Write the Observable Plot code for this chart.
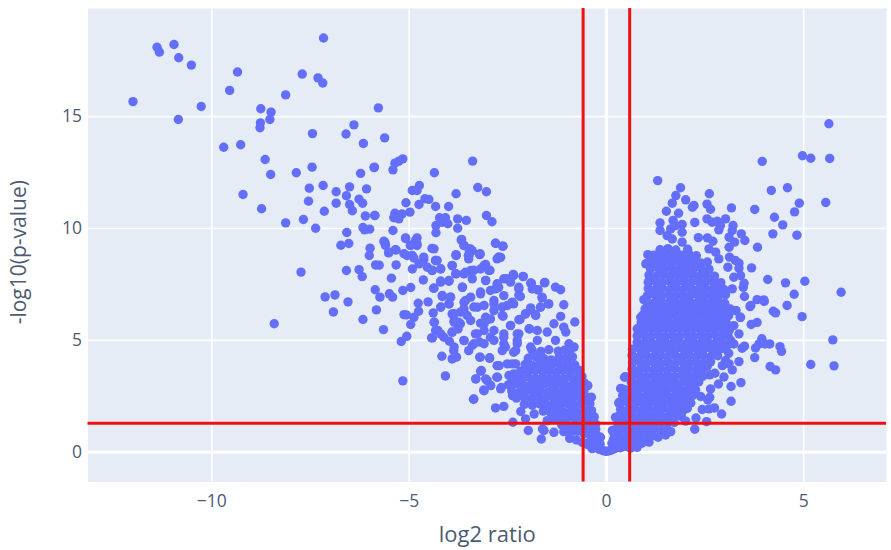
<!DOCTYPE html>
<html><head><meta charset="utf-8">
<script src="https://cdn.jsdelivr.net/npm/d3@7"></script>
<script src="https://cdn.jsdelivr.net/npm/@observablehq/plot@0.6"></script>
<style>html,body{margin:0;padding:0;background:#fff}svg{display:block}</style>
</head><body><div id="chart"></div>
<script>
const xTicks=[-10,-5,0,5];
const yTicks=[0,5,10,15];
const foldCut=[-0.59,0.59];
const pCut=[1.3];
const xTitle=["log2 ratio"];
const yTitle=["-log10(p-value)"];
const farLeft=[[-12,15.67],[-11.39,18.1],[-11.33,17.88],[-10.96,18.22],[-10.84,17.63],[-10.52,17.3],[-10.85,14.87],[-10.27,15.45],[-9.35,16.99],[-9.55,16.17],[-9.7,13.63],[-9.27,13.74],[-8.76,15.35],[-8.5,15.2],[-8.53,14.87],[-8.77,14.72],[-8.78,14.5],[-8.13,15.97],[-7.71,16.9],[-7.31,16.73],[-7.19,16.5],[-7.17,18.51],[-5.78,15.39],[-6.4,14.63],[-6.6,14.22],[-6.16,13.8],[-7.45,14.24],[-8.65,13.08],[-8.51,12.41],[-7.86,12.49],[-7.46,12.74],[-5.89,12.72],[-6.23,12.46],[-7.53,11.8],[-7.18,11.92],[-6.51,11.86],[-6.08,11.77],[-6.85,11.64],[-6.59,11.46],[-6.27,11.31],[-6.18,11.13],[-7.55,11.22],[-6.85,11.13],[-6.51,11.07],[-6.44,10.79],[-7.15,10.77],[-9.21,11.52],[-8.74,10.88],[-6.11,10.56],[-5.87,10.58],[-8.13,10.25],[-7.68,10.4],[-7.37,10.01],[-6.17,10.04],[-6,9.97],[-6.13,9.94],[-6.58,9.82]];
const midLeft=[[-6.73,9.25],[-6.53,9.33],[-5.99,9.12],[-6.01,8.79],[-7.74,8.05],[-6.59,8.12],[-6.27,8.16],[-6.19,7.85],[-5.85,8.37],[-5.76,8.36],[-5.62,9.39],[-5.6,9.28],[-5.51,8.94],[-5.33,9.04],[-5.09,9.55],[-5.33,8.37],[-5.45,7.78],[-4.64,7.7],[-5.16,7.23],[-4.96,7.36],[-5.86,7.26],[-5.74,6.93],[-5.5,7.08],[-5.42,6.93],[-7.13,6.94],[-6.88,7.03],[-6.55,6.72],[-6.92,6.27],[-5.83,6.36],[-6.17,5.93],[-8.42,5.74],[-5.65,5.48],[-4.77,6.66],[-4.52,6.72],[-4.76,6.3],[-5.13,6.15],[-5.07,6.14],[-4.88,6.03],[-4.96,5.71],[-5.06,5.18],[-5.2,4.95],[-5.16,3.19],[-4.43,5.11],[-4.17,4.29],[-4.08,3.41],[-3.37,2.37],[-4.36,5.81],[-4.39,6.23],[-4.33,5.44],[-4.2,5.29],[-4.12,5.14],[-3.98,4.96],[-3.87,4.54],[-3.91,4.17],[-3.8,4.25],[-3.91,5.36],[-3.76,5.51],[-3.86,5.88],[-3.7,5.74],[-3.61,4.99],[-3.49,4.54],[-3.4,4.77],[-3.21,4.92],[-3.21,4.25],[-2.96,4.2],[-3.17,3.65],[-3.31,3.28],[-3.02,3.2],[-3.11,2.78],[-2.78,3.35],[-2.77,3.87],[-2.66,2.9],[-2.35,3.5],[-2.6,4.84],[-2.35,4.47],[-2.39,3.95],[-2.6,5.29],[-2.94,5.14],[-3.27,5.29],[-3.1,5.74],[-2.94,5.96],[-2.43,5.66],[-2.22,5.29],[-2.26,4.99],[-2.62,6.08],[-2.19,5.93],[-1.95,5.51],[-2.05,6.18],[-1.8,6.15],[-1.92,6.45],[-1.67,6.48],[-1.47,6.63],[-1.63,6.9],[-1.57,7.57],[-1.73,7.26],[-1.9,7.55],[-2.11,7.85],[-2.35,7.9],[-2.53,7.75],[-2.22,7.37],[-2.18,6.96],[-2.35,6.63],[-2.73,7.37],[-2.94,7.23],[-3.19,7.08],[-3.44,6.93],[-3.65,7.37],[-3.95,6.93],[-4.16,6.96],[-3.99,6.63],[-4.2,6.48],[-3.61,6.7],[-3.7,6.26],[-3.91,6.18],[-3.53,6.11],[-3.27,6.48],[-2.85,6.63],[-2.6,7],[-3.06,6.03],[-3.99,7.64],[-4.2,7.6],[-4.38,7.33],[-3.81,7.97],[-3.61,7.97],[-3.4,7.75],[-3.06,7.67],[-3.44,8.12],[-3.19,8.19],[-2.98,8.12],[-3.06,8.39],[-3.91,8.34],[-4.2,8.19],[-4.42,8.12],[-4.33,8.57],[-4.63,8.6],[-4.54,8.27],[-4.75,8.42],[-4.92,8.19],[-4.88,8.68],[-5.05,8.79],[-4.84,9.46],[-4.96,9.24],[-4.8,9.24],[-4.37,9.09],[-3.81,8.79],[-3.68,9.49],[-3.61,9.24],[-3.49,9.09],[-3.4,9.01],[-3.49,8.64],[-3.21,8.83],[-2.81,9.34],[-2.62,9.21],[-2.77,8.64],[-2.68,8.71]];
const upperBand=[[-5.62,14.05],[-5.16,13.11],[-5.26,13.01],[-5.36,12.92],[-5.88,12.74],[-5.41,12.62],[-4.36,12.49],[-3.39,13.01],[-4.74,11.92],[-4.92,11.7],[-4.8,11.7],[-3.26,11.83],[-3.04,11.64],[-3.81,11.55],[-4.6,11.33],[-4.5,11.3],[-5.08,11.15],[-4.75,11.07],[-4.33,10.98],[-4,10.98],[-4.98,10.73],[-5.87,10.58],[-5.36,10.68],[-5.18,10.65],[-5.39,10.48],[-5.26,10.43],[-4.23,10.48],[-4.08,10.48],[-3.77,10.43],[-3.55,10.36],[-3.04,10.58],[-2.9,10.3],[-4.16,10.28],[-4.02,10.21],[-4.32,10.13],[-3.77,10.01],[-5.41,9.91],[-4.32,9.81],[-5.09,9.58],[-4.8,9.58],[-3.67,9.51],[-5.64,9.43],[-5.6,9.24],[-4.8,9.31],[-4.97,9.24],[-2.81,9.34],[-2.63,9.21],[-3.61,9.24],[-3.45,9.09],[-4.42,9.11],[-5.35,9.05],[-5.52,8.91],[-5.13,8.87],[-4.92,8.79],[-4.63,8.72],[-3.81,8.81],[-3.5,8.79],[-3.21,8.84],[-2.73,8.72],[-4.29,8.57]];
const lowerBand=[[-3.81,8.83],[-3.2,8.87],[-3.48,8.8],[-2.72,8.72],[-3.91,8.35],[-3.82,7.98],[-4.33,8.57],[-4.2,8.2],[-4.41,8.13],[-3.57,8.05],[-3.36,8.13],[-3.1,8.35],[-2.95,8.13],[-3.06,7.68],[-2.36,7.95],[-2.11,7.86],[-2.6,7.75],[-2.77,7.53],[-2.43,7.6],[-1.92,7.56],[-1.56,7.59],[-1.29,7.38],[-1.16,7.26],[-1.75,7.26],[-1.88,7.3],[-2.22,7.3],[-2.22,7.01],[-1.63,6.93],[-1.08,6.59],[-1.46,6.63],[-1.67,6.49],[-1.92,6.37],[-2.05,6.19],[-1.79,6.11],[-2.22,5.92],[-2.39,6.71],[-2.51,6.56],[-2.64,6.49],[-2.64,6.11],[-2.85,6.33],[-2.85,6.78],[-3.19,7.16],[-2.81,7.3],[-3.1,6.56],[-3.36,6.49],[-3.61,6.41],[-3.57,6.78],[-3.65,7.38],[-3.99,7.68],[-4.2,7.65],[-4.37,7.33],[-4.16,7.01],[-3.95,6.93],[-3.99,6.63],[-4.2,6.49],[-3.86,6.19],[-3.74,5.81],[-3.86,5.81],[-3.44,5.89],[-3.19,5.77],[-3.02,5.92],[-4.37,5.81],[-4.27,5.44],[-3.91,5.37],[-3.61,5],[-3.32,5.29],[-3.1,5.44],[-2.85,5.44],[-2.6,5.14],[-2.43,5.67],[-2.26,5.29],[-1.96,5.52],[-1.75,5.44],[-1.5,5.37],[-1.33,5.74],[-1.08,5.59],[-0.8,5.82],[-1.16,6.07],[-1.03,5.37],[-1.29,5],[-0.95,4.85],[-0.82,4.7],[-1.75,5],[-1.92,4.7],[-2.26,4.85],[-2.56,4.7],[-2.85,5],[-3.1,4.85],[-3.36,4.85],[-3.86,4.7],[-4.41,5.11]];
const lowLeft=[[-3.2,4.25],[-2.96,4.22],[-2.64,4.54],[-2.3,4.54],[-2.72,3.87],[-2.51,3.95],[-2.3,3.95],[-3.19,3.62],[-3.31,3.28],[-3.06,3.28],[-2.76,3.35],[-2.93,2.98],[-3.1,2.75],[-2.68,2.83],[-2.47,3.43],[-2.38,2.53],[-3.36,2.38],[-2.81,1.98],[-2.6,2.05],[-2.17,1.82],[-2.37,1.34],[-2.05,1.49],[-1.98,0.97],[-1.65,0.59],[-1.62,1.04],[-1.33,0.89],[-1.83,1.71],[-1.5,1.41],[-1.24,1.56],[-1.58,0.97]];
const denseLeft=[[-0.93,0.62],[-0.76,0.55],[-0.61,0.44],[-0.47,0.42],[-0.36,0.34],
[-1.08,0.92],[-0.9,0.88],[-0.74,0.94],[-0.57,0.83],[-0.42,0.8],[-0.31,0.72],
[-1.13,1.22],[-0.96,1.17],[-0.8,1.25],[-0.62,1.2],[-0.46,1.14],[-0.27,1.26],
[-1.33,1.53],[-1.17,1.48],[-1,1.52],[-0.83,1.56],[-0.66,1.47],[-0.49,1.53],[-0.31,1.58],
[-1.6,1.84],[-1.42,1.79],[-1.25,1.86],[-1.08,1.8],[-0.9,1.83],[-0.73,1.78],[-0.55,1.86],[-0.38,1.85],
[-2.08,2.14],[-1.88,2.1],[-1.7,2.17],[-1.52,2.09],[-1.35,2.16],[-1.17,2.11],[-1,2.18],[-0.82,2.12],[-0.64,2.15],[-0.43,2.2],
[-2.28,2.42],[-2.09,2.47],[-1.9,2.39],[-1.72,2.45],[-1.55,2.41],[-1.37,2.48],[-1.2,2.4],[-1.03,2.46],[-0.85,2.42],[-0.67,2.47],[-0.48,2.44],
[-2.4,2.74],[-2.2,2.68],[-2.02,2.75],[-1.84,2.7],[-1.67,2.76],[-1.48,2.69],[-1.3,2.73],[-1.12,2.68],[-0.95,2.76],[-0.76,2.7],[-0.57,2.72],
[-2.48,3.02],[-2.27,3.06],[-2.1,2.99],[-1.9,3.04],[-1.72,3],[-1.55,3.07],[-1.37,3],[-1.2,3.05],[-1.02,2.98],[-0.84,3.04],[-0.66,3.01],[-0.56,3.1],
[-2.38,3.3],[-2.17,3.28],[-2,3.36],[-1.8,3.3],[-1.62,3.35],[-1.44,3.27],[-1.27,3.34],[-1.09,3.29],[-0.92,3.36],[-0.74,3.3],[-0.62,3.38],
[-2.18,3.62],[-1.98,3.58],[-1.8,3.66],[-1.61,3.6],[-1.45,3.65],[-1.27,3.58],[-1.1,3.66],[-0.92,3.6],[-0.75,3.64],
[-2.06,3.92],[-1.88,3.88],[-1.7,3.95],[-1.52,3.9],[-1.34,3.96],[-1.16,3.88],[-0.98,3.94],[-0.8,3.9],
[-1.98,4.2],[-1.78,4.26],[-1.58,4.18],[-1.2,4.24],[-1.02,4.2],[-0.86,4.26],[-1.4,4.12],
[-1.88,4.55],[-1.66,4.5],[-1.46,4.58],[-1.22,4.52],[-1.06,4.56],[-0.93,4.44]];
const vBottom=[[0,0.04],[-0.06,0.06],[0.06,0.06],[-0.12,0.1],[0.12,0.09],[-0.18,0.13],[0.18,0.14],[-0.24,0.2],[0.24,0.19],[-0.3,0.26],[0.3,0.24],[-0.36,0.16],[0.36,0.2],[-0.42,0.3],[0.42,0.28],[-0.5,0.36],[0.5,0.26],[-0.16,0.36],[0.14,0.4],[-0.2,0.52],[0.18,0.58],[-0.24,0.74],[0.2,0.8],[-0.3,0.55],[0.28,0.5],[-0.36,0.62],[0.36,0.66],[-0.27,1.02],[0.15,0.97],[-0.4,1.2],[0.28,1.1],[-0.34,1.4],[0.23,1.56],[-0.38,1.86],[0.32,1.5],[-0.42,2.17],[0.32,2.18],[-0.38,2.46],[0.36,2.85],[-0.47,2.98],[0.49,3.38],[-0.68,3.65],[0.46,3.35],[0.4,2.83],[0.32,2.23],[0.27,1.56],[0.19,0.97],[-0.15,0.67],[0.61,0.18],[0.78,0.22],[1.08,0.45]];
const rightOut=[[5.74,5.02],[5.18,3.92],[5.77,3.86],[4.96,6.06],[4.58,6.56],[4.23,6.3],[4.29,6.23],[3.82,5.8],[3.67,5.71],[3.94,5.07],[4.14,4.84],[4.02,4.84],[3.87,4.84],[3.78,4.66],[4.4,4.72],[4.44,4.51],[3.76,4.23],[4.15,3.83],[4.29,3.68],[3.5,4.74],[3.44,4.65],[3.36,4.05],[3.19,3.68],[3.02,4.1],[3.11,3.95],[2.94,3.87],[3.41,3.11],[3.16,2.94],[2.64,2.83],[2.75,3.53],[2.62,3.46],[3.16,2.28],[2.39,2.49],[2.57,2.34],[2.43,1.91],[2.6,1.94],[2.74,1.98],[2.92,1.71],[2.54,1.37],[2.27,1.53],[2.01,1.39],[2.24,1.03],[1.63,0.92],[1.5,0.77],[1.31,0.67],[3.39,6.03],[3.23,5.66],[3.36,5.29],[3.23,4.84],[3.06,4.77],[3.28,6.33],[3.64,6.51],[4,6.74]];
const rightUpper=[[5.64,14.68],[4.97,13.25],[5.18,13.14],[5.66,13.13],[3.95,13],[1.3,12.14],[4.18,11.7],[4.59,11.82],[1.88,11.82],[2.61,11.55],[1.76,11.47],[2.01,11.28],[1.67,11.13],[4.89,11.13],[5.56,11.16],[2.18,10.95],[2.22,11.03],[2.55,11.09],[2.64,10.86],[3.17,10.92],[3.76,10.85],[4.77,10.74],[1.52,10.77],[1.83,10.68],[4.26,10.5],[4.47,10.16],[4.22,9.76],[4.83,9.7],[1.36,10.25],[1.69,10.36],[2.24,10.27],[1.92,10.18],[2.55,10.43],[2.68,10.28],[2.81,10.32],[3.02,10.43],[2.89,10.13],[2.85,9.94],[3.21,10.13],[3.19,9.91],[1.36,9.91],[1.63,9.98],[1.75,10.13],[1.92,9.83],[1.54,9.68],[1.67,9.53],[1.92,9.39],[2.33,9.59],[2.56,9.58],[2.7,9.43],[3.11,9.61],[3.25,9.39],[3.11,9.16],[3.42,9.76],[3.51,9.46],[3.83,9.16],[2.6,9.09],[2.77,8.94],[2.85,8.64],[3.12,8.72],[3.36,8.45],[3.27,8.57],[3.08,8.27],[3.36,8.22],[3.68,8.24],[3.23,7.82],[3.4,7.9],[3.49,7.55],[3.47,7.37],[4.09,7.72],[4.54,7.57],[5.03,7.64],[5.95,7.15],[4.76,7.06],[3.99,6.81],[3.82,6.82],[3.5,6.96],[3.66,6.56],[3.19,7.3],[3.28,6.33],[3.4,6.03],[0.95,6.82],[0.87,6.03],[1.05,8.83],[1,8.42],[1.1,7.75],[1.12,7.22]];
const denseRightLow=[[0.47,0.42],[0.62,0.38],[0.76,0.44],[0.9,0.4],
[0.52,0.72],[0.68,0.66],[0.84,0.74],[1,0.68],[1.17,0.74],
[0.36,1.02],[0.52,1.06],[0.7,0.98],[0.87,1.04],[1.04,1],[1.21,1.06],[1.38,0.98],[1.5,1.05],
[0.3,1.32],[0.5,1.28],[0.68,1.34],[0.86,1.27],[1.02,1.33],[1.2,1.28],[1.37,1.35],[1.55,1.28],[1.72,1.33],
[0.31,1.62],[0.48,1.58],[0.66,1.64],[0.84,1.57],[1.02,1.63],[1.19,1.58],[1.37,1.65],[1.54,1.57],[1.72,1.63],[1.9,1.6],
[0.36,1.92],[0.54,1.88],[0.72,1.94],[0.9,1.87],[1.07,1.93],[1.25,1.88],[1.42,1.95],[1.6,1.87],[1.77,1.93],[1.95,1.88],[2.05,1.96],
[0.36,2.2],[0.54,2.24],[0.72,2.17],[0.9,2.23],[1.08,2.18],[1.26,2.25],[1.44,2.17],[1.62,2.24],[1.8,2.18],[1.98,2.23],[2.14,2.2],
[0.41,2.52],[0.6,2.47],[0.78,2.53],[0.96,2.46],[1.14,2.52],[1.32,2.47],[1.5,2.54],[1.68,2.46],[1.86,2.52],[2.04,2.47],[2.18,2.53],
[0.46,2.8],[0.64,2.84],[0.82,2.78],[1,2.84],[1.18,2.77],[1.36,2.83],[1.54,2.78],[1.72,2.85],[1.9,2.77],[2.08,2.83],[2.26,2.79],
[0.63,3.12],[0.8,3.07],[0.98,3.13],[1.16,3.06],[1.34,3.12],[1.52,3.07],[1.7,3.14],[1.88,3.06],[2.06,3.12],[2.24,3.07],[2.34,3.14],
[0.66,3.4],[0.84,3.45],[1.02,3.38],[1.2,3.44],[1.38,3.37],[1.56,3.43],[1.74,3.38],[1.92,3.45],[2.1,3.37],[2.28,3.43],[2.44,3.39],
[0.65,3.72],[0.83,3.67],[1.01,3.73],[1.19,3.66],[1.37,3.72],[1.55,3.67],[1.73,3.74],[1.91,3.66],[2.09,3.72],[2.27,3.67],[2.45,3.73],
[0.66,4],[0.84,4.05],[1.02,3.98],[1.2,4.04],[1.38,3.97],[1.56,4.03],[1.74,3.98],[1.92,4.05],[2.1,3.97],[2.28,4.03],[2.46,3.98],[2.64,4.04],
[0.65,4.32],[0.83,4.27],[1.01,4.33],[1.19,4.26],[1.37,4.32],[1.55,4.27],[1.73,4.34],[1.91,4.26],[2.09,4.32],[2.27,4.27],[2.45,4.33],[2.63,4.26],[2.82,4.31],
[0.66,4.6],[0.84,4.65],[1.02,4.58],[1.2,4.64],[1.38,4.57],[1.56,4.63],[1.74,4.58],[1.92,4.65],[2.1,4.57],[2.28,4.63],[2.46,4.58],[2.64,4.65],[2.82,4.58],[2.94,4.63]];
const denseRightHigh=[[0.78,4.92],[0.95,4.87],[1.13,4.93],[1.31,4.86],[1.49,4.92],[1.67,4.87],[1.85,4.94],[2.03,4.86],[2.21,4.92],[2.39,4.87],[2.57,4.93],[2.75,4.86],[2.93,4.91],
[0.78,5.2],[0.95,5.25],[1.13,5.18],[1.31,5.24],[1.49,5.17],[1.67,5.23],[1.85,5.18],[2.03,5.25],[2.21,5.17],[2.39,5.23],[2.57,5.18],[2.75,5.25],[2.93,5.18],[3.08,5.23],
[0.78,5.52],[0.96,5.47],[1.14,5.53],[1.32,5.46],[1.5,5.52],[1.68,5.47],[1.86,5.54],[2.04,5.46],[2.22,5.52],[2.4,5.47],[2.58,5.53],[2.76,5.46],[2.94,5.52],[3.12,5.47],
[0.88,5.8],[1.06,5.85],[1.24,5.78],[1.42,5.84],[1.6,5.77],[1.78,5.83],[1.96,5.78],[2.14,5.85],[2.32,5.77],[2.5,5.83],[2.68,5.78],[2.86,5.85],[3.04,5.78],
[0.92,6.12],[1.1,6.07],[1.28,6.13],[1.46,6.06],[1.64,6.12],[1.82,6.07],[2,6.14],[2.18,6.06],[2.36,6.12],[2.54,6.07],[2.72,6.13],[2.9,6.06],[3.1,6.1],
[0.98,6.4],[1.16,6.45],[1.34,6.38],[1.52,6.44],[1.7,6.37],[1.88,6.43],[2.06,6.38],[2.24,6.45],[2.42,6.37],[2.6,6.43],[2.78,6.38],[2.96,6.45],[3.14,6.4],
[1.02,6.72],[1.2,6.67],[1.38,6.73],[1.56,6.66],[1.74,6.72],[1.92,6.67],[2.1,6.74],[2.28,6.66],[2.46,6.72],[2.64,6.67],[2.82,6.73],[3,6.66],
[1.04,7],[1.22,7.05],[1.4,6.98],[1.58,7.04],[1.76,6.97],[1.94,7.03],[2.12,6.98],[2.3,7.05],[2.48,6.97],[2.66,7.03],[2.84,6.98],[3.02,7.04],
[1.06,7.32],[1.24,7.27],[1.42,7.33],[1.6,7.26],[1.78,7.32],[1.96,7.27],[2.14,7.34],[2.32,7.26],[2.5,7.32],[2.68,7.27],[2.86,7.33],[2.98,7.27],
[1.06,7.6],[1.24,7.65],[1.42,7.58],[1.6,7.64],[1.78,7.57],[1.96,7.63],[2.14,7.58],[2.32,7.65],[2.5,7.57],[2.68,7.63],[2.9,7.58],
[1.08,7.92],[1.26,7.87],[1.44,7.93],[1.62,7.86],[1.8,7.92],[1.98,7.87],[2.16,7.94],[2.34,7.86],[2.52,7.92],[2.74,7.87],
[1.12,8.2],[1.3,8.25],[1.48,8.18],[1.66,8.24],[1.84,8.17],[2.02,8.23],[2.2,8.18],[2.38,8.25],[2.6,8.18],
[1.14,8.52],[1.32,8.47],[1.5,8.53],[1.68,8.46],[1.86,8.52],[2.04,8.47],[2.22,8.54],[2.4,8.46],[2.56,8.5],
[1.2,8.8],[1.38,8.84],[1.56,8.78],[1.74,8.85],[1.92,8.8],[2.1,8.85],[2.28,8.78],
[1.36,9.05],[1.56,9.1],[1.76,9.04],[2.06,9.07]];
const gapFillRight=[[0.75,1.48],[1.1,1.47],[1.46,1.46],[0.63,2.05],[0.99,2.06],[1.35,2.04],[1.71,2.05],[0.7,2.66],[1.05,2.65],[1.41,2.66],[1.77,2.65],[2.13,2.66],[0.9,3.26],[1.25,3.25],[1.61,3.26],[1.97,3.25],[2.33,3.26],[0.92,3.86],[1.28,3.85],[1.64,3.86],[2,3.85],[2.36,3.86],[2.56,3.85],[0.92,4.46],[1.28,4.45],[1.64,4.46],[2,4.45],[2.36,4.46],[2.72,4.45],[1.04,5.06],[1.4,5.05],[1.76,5.06],[2.12,5.05],[2.48,5.06],[2.84,5.05],[1.05,5.66],[1.41,5.65],[1.77,5.66],[2.13,5.65],[2.49,5.66],[2.85,5.65],[1.19,6.26],[1.55,6.25],[1.91,6.26],[2.27,6.25],[2.63,6.26],[2.99,6.25],[1.29,6.86],[1.65,6.85],[2.01,6.86],[2.37,6.85],[2.73,6.86],[1.33,7.46],[1.69,7.45],[2.05,7.46],[2.41,7.45],[2.77,7.46],[1.39,8.06],[1.75,8.05],[2.11,8.06],[2.47,8.05],[1.41,8.66],[1.77,8.65],[2.13,8.66],[2.62,2.45],[2.84,3.05],[2.98,3.36],[3.1,4.42],[3.15,5.0]];
const points=[...farLeft,...midLeft,...upperBand,...lowerBand,...lowLeft,...denseLeft,...vBottom,...rightOut,...rightUpper,...denseRightLow,...denseRightHigh,...gapFillRight];
const inkTick="#4d5b72", inkTitle="#4d5b72", font="'Open Sans', sans-serif";
const plot=Plot.plot({
  width:891,height:550,marginLeft:87.5,marginRight:5,marginTop:8,marginBottom:68.5,
  style:{fontFamily:font,background:"#fff"},
  x:{domain:[-13.14,7.1]},y:{domain:[-1.33,19.83]},
  marks:[
    Plot.frame({fill:"#E5ECF6",stroke:null}),
    Plot.ruleX(xTicks,{stroke:"#fff",strokeWidth:d=>d===0?3:1.6}),
    Plot.ruleY(yTicks,{stroke:"#fff",strokeWidth:d=>d===0?3:1.6}),
    Plot.dot(points,{x:d=>d[0],y:d=>d[1],r:4.7,fill:"#636EFA",stroke:null}),
    Plot.ruleX(foldCut,{stroke:"#f01010",strokeWidth:3}),
    Plot.ruleY(pCut,{stroke:"#f01010",strokeWidth:3}),
    Plot.axisX({ticks:xTicks,tickSize:0,tickPadding:13,label:null,fontSize:17.5,color:inkTick}),
    Plot.axisY({ticks:yTicks,tickSize:0,tickPadding:6,label:null,fontSize:17.5,color:inkTick}),
    Plot.text(xTitle,{frameAnchor:"bottom",dy:60,fontSize:22,fill:inkTitle}),
    Plot.text(yTitle,{frameAnchor:"left",dx:-69,dy:7,rotate:-90,textAnchor:"middle",fontSize:21,fill:inkTitle})
  ]
});
document.getElementById("chart").append(plot);
</script></body></html>
